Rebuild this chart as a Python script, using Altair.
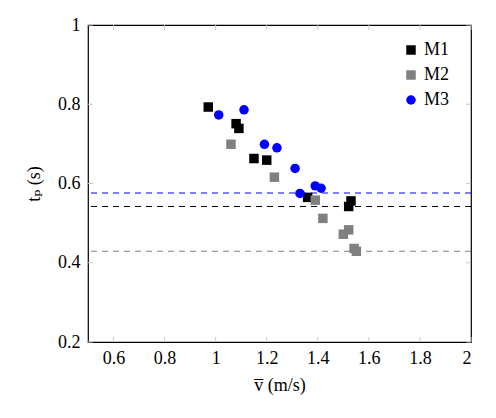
import altair as alt
import pandas as pd

# ---- data ----
m1_v = [0.971, 1.080, 1.091, 1.150, 1.200, 1.360, 1.521, 1.530]
m1_t = [0.793, 0.751, 0.739, 0.663, 0.659, 0.565, 0.542, 0.556]

m2_v = [1.060, 1.230, 1.390, 1.420, 1.500, 1.521, 1.542, 1.551]
m2_t = [0.699, 0.616, 0.558, 0.512, 0.472, 0.483, 0.436, 0.429]

m3_v = [1.012, 1.111, 1.191, 1.240, 1.311, 1.330, 1.390, 1.413]
m3_t = [0.773, 0.786, 0.699, 0.690, 0.638, 0.575, 0.594, 0.588]

series = ["M1", "M2", "M3"]
colors = ["#000000", "#808080", "#0000ff"]
shapes = ["square", "square", "circle"]

hline_series = ["M3", "M1", "M2"]
hline_t = [0.576, 0.542, 0.429]

x_ticks = [0.6, 0.8, 1.0, 1.2, 1.4, 1.6, 1.8, 2.0]
y_ticks = [0.2, 0.4, 0.6, 0.8, 1.0]

# ---- tables ----
rows = []
for name, vs, ts in [("M1", m1_v, m1_t), ("M2", m2_v, m2_t), ("M3", m3_v, m3_t)]:
    for v, t in zip(vs, ts):
        rows.append({"v": v, "t": t, "series": name})
pts = pd.DataFrame(rows)
hl = pd.DataFrame({"t": hline_t, "series": hline_series})
xt = pd.DataFrame({"v": x_ticks})
yt = pd.DataFrame({"t": y_ticks})

W, H = 383, 317
FONT = "Liberation Serif, Times New Roman, DejaVu Serif, serif"
FS = 18

xscale = alt.Scale(domain=[0.5, 2.0], nice=False, zero=False)
yscale = alt.Scale(domain=[0.2, 1.0], nice=False, zero=False)
cscale = alt.Scale(domain=series, range=colors)
sscale = alt.Scale(domain=series, range=shapes)

x_axis = alt.Axis(
    values=x_ticks, ticks=False, grid=False, domain=False,
    labelFont=FONT, labelFontSize=FS, labelColor="#000",
    labelPadding=7, labelExpr="datum.value == 1 || datum.value == 2 ? format(datum.value, 'd') : format(datum.value, '.1f')",
    title="v̅ (m/s)", titleFont=FONT, titleFontSize=FS, titleFontWeight="normal",
    titleColor="#000", titlePadding=9,
)
y_axis = alt.Axis(
    values=y_ticks, ticks=False, grid=False, domain=False,
    labelFont=FONT, labelFontSize=FS, labelColor="#000",
    labelPadding=8, labelExpr="datum.value == 1 ? '1' : format(datum.value, '.1f')",
    title="tₚ (s)", titleFont=FONT, titleFontSize=FS, titleFontWeight="normal",
    titleColor="#000", titlePadding=14,
)

legend = alt.Legend(orient="none", legendX=314, legendY=16,
                    labelFont=FONT, labelFontSize=FS, labelColor="#000",
                    symbolSize=90, symbolStrokeWidth=0, rowPadding=7,
                    labelOffset=4)

hlines = alt.Chart(hl).mark_rule(strokeDash=[6, 5], strokeWidth=1).encode(
    y=alt.Y("t:Q", scale=yscale, axis=y_axis),
    color=alt.Color("series:N", scale=cscale, title=None, legend=legend),
)

points = alt.Chart(pts).mark_point(filled=True, opacity=1, size=90).encode(
    x=alt.X("v:Q", scale=xscale, axis=x_axis),
    y=alt.Y("t:Q", scale=yscale, axis=y_axis),
    color=alt.Color("series:N", scale=cscale, title=None, legend=legend),
    shape=alt.Shape("series:N", scale=sscale, title=None, legend=legend),
)

tick_color = "#c8c8c8"
xb = alt.Chart(xt).mark_rule(color=tick_color, strokeWidth=1).encode(
    x=alt.X("v:Q", scale=xscale, axis=x_axis), y=alt.value(H), y2=alt.value(H - 5))
xtp = alt.Chart(xt).mark_rule(color=tick_color, strokeWidth=1).encode(
    x=alt.X("v:Q", scale=xscale, axis=x_axis), y=alt.value(0), y2=alt.value(5))
yl = alt.Chart(yt).mark_rule(color=tick_color, strokeWidth=1).encode(
    y=alt.Y("t:Q", scale=yscale, axis=y_axis), x=alt.value(0), x2=alt.value(5))
yr = alt.Chart(yt).mark_rule(color=tick_color, strokeWidth=1).encode(
    y=alt.Y("t:Q", scale=yscale, axis=y_axis), x=alt.value(W), x2=alt.value(W - 5))

chart = alt.layer(xb, xtp, yl, yr, hlines, points).properties(
    width=W, height=H,
    autosize=alt.AutoSizeParams(type="none"),
    padding={"left": 88, "top": 25, "right": 25, "bottom": 76},
    background="white",
).configure_view(stroke="#000", strokeWidth=1.2).configure_axis(
    labelFont=FONT, titleFont=FONT
)

chart.save("out.html", embed_options={"renderer": "svg", "actions": False})
